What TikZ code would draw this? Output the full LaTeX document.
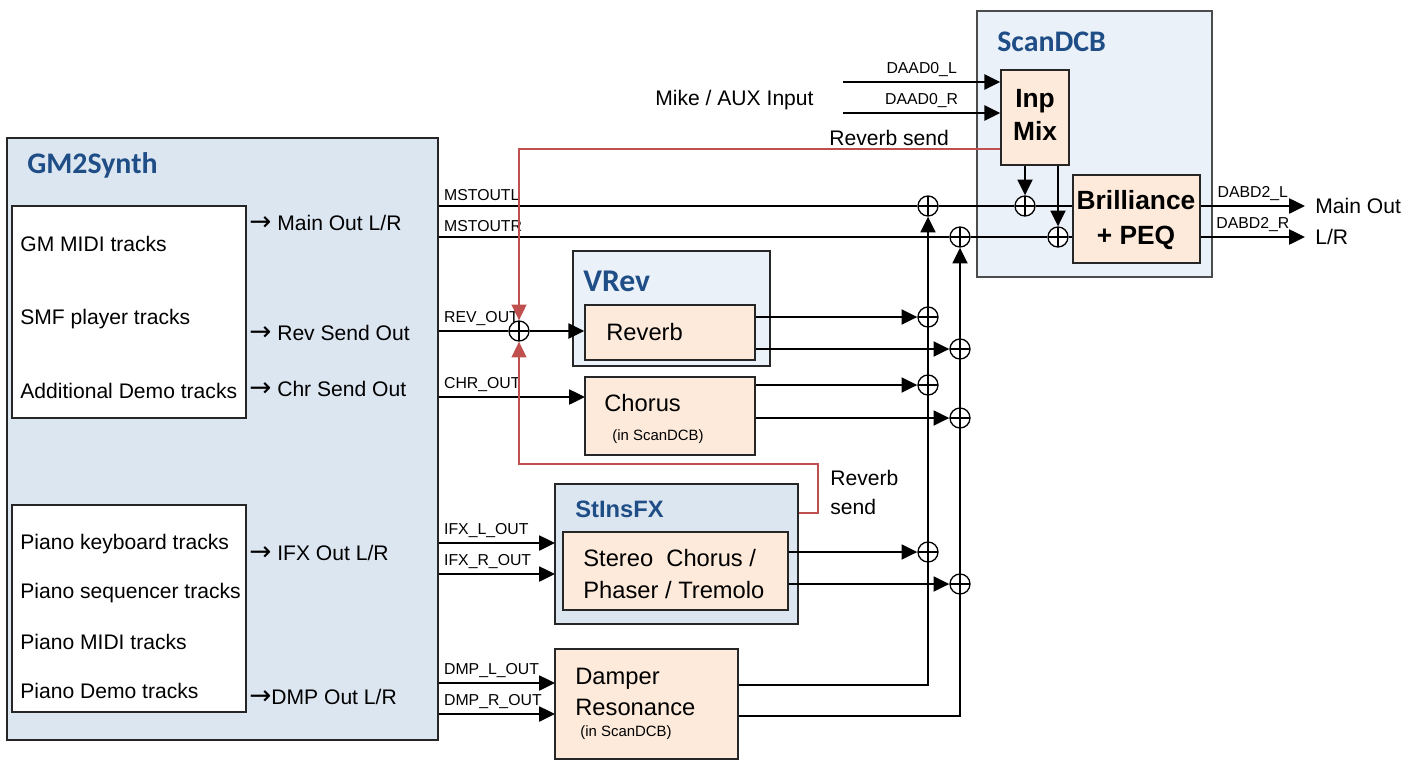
\documentclass[tikz,border=0pt]{standalone}
\usepackage{fontspec}
\setmainfont{Liberation Sans}
\newfontfamily\calibrifont{Carlito}
\newfontfamily\arrowfont{DejaVu Sans}
\usepackage{xcolor}
\usetikzlibrary{arrows.meta,positioning,fit}
\definecolor{synthcolor}{RGB}{220,230,241}
\definecolor{scancolor}{RGB}{235,241,249}
\definecolor{fxcolor}{RGB}{253,234,218}
\definecolor{titlecolor}{RGB}{31,78,135}
\definecolor{sendcolor}{RGB}{192,80,77}
\newcommand{\outarrow}{{\arrowfont\fontsize{15}{15}\selectfont →}}

\begin{document}
\begin{tikzpicture}[
    x=0.02cm, y=-0.02cm,
    block/.style={draw=black!85, line width=0.8pt, inner sep=0pt},
    fxblock/.style={block, fill=fxcolor},
    titletext/.style={font=\calibrifont\fontsize{17}{20}\selectfont\bfseries, text=titlecolor, anchor=west, inner sep=0pt},
    txt/.style={font=\fontsize{12}{15}\selectfont, anchor=west, inner sep=0pt},
    boldtxt/.style={font=\fontsize{15}{19}\selectfont\bfseries, align=center, inner sep=0pt},
    fxtxt/.style={font=\fontsize{13.5}{18}\selectfont, anchor=west, align=left, inner sep=0pt},
    note/.style={font=\fontsize{8.5}{10}\selectfont, anchor=west, inner sep=0pt},
    lbl/.style={font=\fontsize{9}{10}\selectfont, inner sep=2.5pt},
    wire/.style={line width=1.2pt},
    sig/.style={wire, -{Triangle[length=9pt, width=8.5pt]}},
    send/.style={sendcolor, line width=0.9pt, -{Triangle[length=9pt, width=8.5pt]}},
    sumnode/.style={circle, draw, line width=0.75pt, fill=white, inner sep=0pt, minimum size=0.4cm,
        path picture={\draw[line width=0.6pt] (path picture bounding box.north) -- (path picture bounding box.south)
            (path picture bounding box.west) -- (path picture bounding box.east);}}
]
\useasboundingbox (0,0) rectangle (1419,761);

% Blocks
\node[block, fill=synthcolor, fit={(7,138) (438,740)}] (gm) {};
\node[block, fill=white, fit={(12,206) (246,418)}] (gmtracks) {};
\node[block, fill=white, fit={(12,505) (246,712)}] (pianotracks) {};
\node[block, fill=scancolor, draw=black!70, fit={(977,11) (1212,277)}] (scan) {};
\node[fxblock, fit={(1001,70) (1069,165)}] (inp) {};
\node[fxblock, fit={(1073,175) (1200,263)}] (bril) {};
\node[block, fill=scancolor, fit={(573,251) (770,366)}] (vrev) {};
\node[fxblock, fit={(585,305) (755,360)}] (rev) {};
\node[fxblock, fit={(585,377) (755,455)}] (cho) {};
\node[block, fill=synthcolor, fit={(555,484) (798,624)}] (insfx) {};
\node[fxblock, fit={(563,532) (788,610)}] (stereo) {};
\node[fxblock, fit={(555,649) (738,759)}] (dmp) {};

% Titles
\node[titletext] at (27,165) {GM2Synth};
\node[titletext] at (997,42) {ScanDCB};
\node[titletext, font=\calibrifont\fontsize{18}{20}\selectfont\bfseries] at (583,281) {VRev};
\node[titletext, font=\fontsize{13.5}{16}\selectfont\bfseries] at (575,509) {StInsFX};
\node[boldtxt, font=\fontsize{15}{19}\selectfont\bfseries] (inptext) at (1035,115) {Inp\\Mix};
\node[boldtxt, font=\fontsize{15}{20}\selectfont\bfseries] (briltext) at (1136,220) {Brilliance\\+ PEQ};

% Track lists
\node[txt] at (20,244) {GM MIDI tracks};
\node[txt] at (20,319) {SMF player tracks};
\node[txt] at (20,391) {Additional Demo tracks};
\node[txt] at (20,544) {Piano keyboard tracks};
\node[txt] at (20,593) {Piano sequencer tracks};
\node[txt] at (20,642) {Piano MIDI tracks};
\node[txt] at (20,691) {Piano Demo tracks};
\node[txt] at (249,223) {\outarrow\ Main Out L/R};
\node[txt] at (249,333) {\outarrow\ Rev Send Out};
\node[txt] at (249,389) {\outarrow\ Chr Send Out};
\node[txt] at (249,553) {\outarrow\ IFX Out L/R};
\node[txt] at (249,697) {\outarrow DMP Out L/R};

% Effect texts
\node[fxtxt] at (606,332) {Reverb};
\node[fxtxt] at (604,403) {Chorus};
\node[note] at (612,437) {(in ScanDCB)};
\node[fxtxt] at (583,574) {Stereo\ \ Chorus /\\Phaser / Tremolo};
\node[fxtxt, font=\fontsize{13.5}{17.6}\selectfont] at (575,692) {Damper\\Resonance};
\node[note] at (580,733) {(in ScanDCB)};

% Free texts
\node[txt] at (655,100) {Mike / AUX Input};
\node[txt] at (829,138) {Reverb send};
\node[txt, font=\fontsize{12}{16.5}\selectfont, align=left] at (830,492) {Reverb\\send};

% Ports
\coordinate (mainL) at (1305,206);
\coordinate (mainR) at (1305,237);
\coordinate (daL) at (843,82);
\coordinate (daR) at (843,113);
\coordinate (chrIn) at (585,397);
\coordinate (ifxL) at (555,543);
\coordinate (ifxR) at (555,574);
\coordinate (dmpL) at (555,683);
\coordinate (dmpR) at (555,714);
\coordinate (busL) at (928,685);
\coordinate (busR) at (960,716);
\coordinate (sendTop) at (519,149);
\coordinate (sendA) at (818,513);
\coordinate (sendB) at (818,464);
\coordinate (sendC) at (519,464);

\node[txt, right=0.2cm of mainL] {Main Out};
\node[txt, right=0.2cm of mainR] {L/R};

% Summing points
\node[sumnode] (sumML) at (928,206) {};
\node[sumnode] (sumMR) at (960,237) {};
\node[sumnode] (sumIL) at (1025,206) {};
\node[sumnode] (sumIR) at (1058,237) {};
\node[sumnode] (sumRev) at (519,331) {};
\node[sumnode] (sumRL) at (928,317) {};
\node[sumnode] (sumRR) at (960,349) {};
\node[sumnode] (sumCL) at (928,385) {};
\node[sumnode] (sumCR) at (960,418) {};
\node[sumnode] (sumFL) at (928,552) {};
\node[sumnode] (sumFR) at (960,584) {};

% Main path
\draw[wire] (gm.east |- sumML) node[above right, lbl] {MSTOUTL} -- (sumML) -- (sumIL) -- (bril.west |- sumIL);
\draw[wire] (gm.east |- sumMR) node[above right, lbl] {MSTOUTR} -- (sumMR) -- (sumIR) -- (bril.west |- sumIR);
\draw[sig] (inp.south -| sumIL) -- (sumIL);
\draw[sig] (inp.south -| sumIR) -- (sumIR);
\draw[sig] (bril.east |- mainL) -- node[above, lbl] {DABD2\_L} (mainL);
\draw[sig] (bril.east |- mainR) -- node[above, lbl] {DABD2\_R} (mainR);
\draw[sig] (daL) -- node[above, lbl] {DAAD0\_L} (inp.west |- daL);
\draw[sig] (daR) -- node[above, lbl] {DAAD0\_R} (inp.west |- daR);

% Effect inputs
\draw[wire] (gm.east |- sumRev) node[above right, lbl] {REV\_OUT} -- (sumRev);
\draw[sig] (sumRev) -- (rev.west |- sumRev);
\draw[sig] (gm.east |- chrIn) node[above right, lbl] {CHR\_OUT} -- (chrIn);
\draw[sig] (gm.east |- ifxL) node[above right, lbl] {IFX\_L\_OUT} -- (ifxL);
\draw[sig] (gm.east |- ifxR) node[above right, lbl] {IFX\_R\_OUT} -- (ifxR);
\draw[sig] (gm.east |- dmpL) node[above right, lbl] {DMP\_L\_OUT} -- (dmpL);
\draw[sig] (gm.east |- dmpR) node[above right, lbl] {DMP\_R\_OUT} -- (dmpR);

% Effect outputs
\draw[sig] (rev.east |- sumRL) -- (sumRL);
\draw[sig] (rev.east |- sumRR) -- (sumRR);
\draw[sig] (cho.east |- sumCL) -- (sumCL);
\draw[sig] (cho.east |- sumCR) -- (sumCR);
\draw[sig] (stereo.east |- sumFL) -- (sumFL);
\draw[sig] (stereo.east |- sumFR) -- (sumFR);
\draw[sig] (dmp.east |- busL) -- (busL) -- (sumML);
\draw[sig] (dmp.east |- busR) -- (busR) -- (sumMR);

% Reverb sends
\draw[send] (inp.west |- sendTop) -- (sendTop) -- (sumRev);
\draw[send] (insfx.east |- sendA) -- (sendA) -- (sendB) -- (sendC) -- (sumRev);
\end{tikzpicture}
\end{document}
